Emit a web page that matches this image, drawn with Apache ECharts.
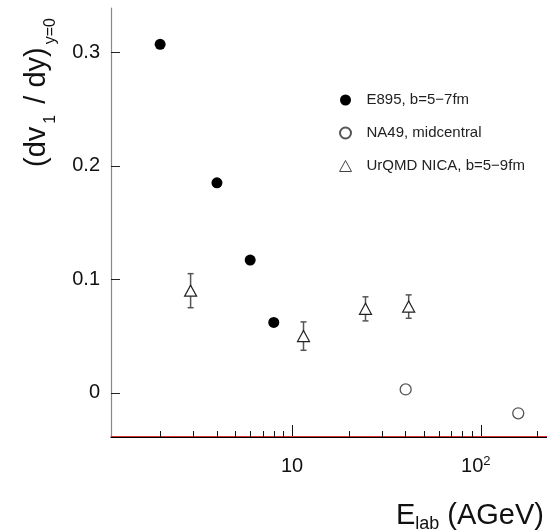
<!DOCTYPE html>
<html>
<head>
<meta charset="utf-8">
<script src="https://cdn.jsdelivr.net/npm/echarts@6/dist/echarts.min.js"></script>
<style>
html,body{margin:0;padding:0;background:#fff;}
#chart{width:547px;height:531px;}
</style>
</head>
<body>
<div id="chart"></div>
<script>
// ---- data ----
const e895X = [2, 4, 6, 8];
const e895Y = [0.307, 0.185, 0.117, 0.062];
const na49X = [40, 158];
const na49Y = [0.003, -0.018];
const urqmdX = [2.9, 11.5, 24.5, 41.5];
const urqmdY = [0.090, 0.050, 0.074, 0.076];
const urqmdErr = [0.015, 0.0125, 0.0106, 0.0103];
const xMajorTicks = [10, 100];
const xMinorTicks = [2, 3, 4, 5, 6, 7, 8, 9, 20, 30, 40, 50, 60, 70, 80, 90, 200];
const yTicks = [0, 0.1, 0.2, 0.3];
const seriesNames = ['E895, b=5\u22127fm', 'NA49, midcentral', 'UrQMD NICA, b=5\u22129fm'];

const FONT = 'Liberation Sans, Arial, Helvetica, sans-serif';
const xMin = 1.098, xMax = 224.4;
const yMin = -0.038, yMax = 0.339;

const chart = echarts.init(document.getElementById('chart'), null, {renderer: 'canvas'});

const zip = (a, b) => a.map((v, i) => [v, b[i]]);
const errData = urqmdX.map((x, i) => [x, urqmdY[i] - urqmdErr[i], urqmdY[i] + urqmdErr[i]]);

const option = {
  animation: false,
  backgroundColor: '#fff',
  grid: {left: 111, right: 0, top: 8, bottom: 95, containLabel: false},
  legend: {
    orient: 'vertical',
    left: 334,
    top: 87,
    itemWidth: 12,
    itemHeight: 11,
    itemGap: 17,
    data: [
      seriesNames[0],
      seriesNames[1],
      {name: seriesNames[2], itemStyle: {color: '#fff', borderColor: '#444', borderWidth: 1}}
    ],
    textStyle: {fontFamily: FONT, fontSize: 15, color: '#222', lineHeight: 16, padding: [0, 0, 0, 10]}
  },
  xAxis: [
    {
      type: 'log', logBase: 10, min: xMin, max: xMax, position: 'bottom',
      axisLine: {show: true, onZero: false, lineStyle: {color: '#d83030', width: 1}},
      axisTick: {show: true, inside: true, length: 11, customValues: xMajorTicks, lineStyle: {color: '#111', width: 1}},
      axisLabel: {
        show: true, customValues: xMajorTicks, margin: 19,
        formatter: v => (Math.abs(v - 10) < 1e-6 ? '{n|10}' : '{n|10}{s|2}'),
        rich: {
          n: {fontFamily: FONT, fontSize: 20, color: '#111', lineHeight: 22},
          s: {fontFamily: FONT, fontSize: 13, color: '#111', lineHeight: 13, verticalAlign: 'top', padding: [0, 10, 0, 0]}
        }
      },
      splitLine: {show: false},
      minorTick: {show: false}
    },
    {
      type: 'log', logBase: 10, min: xMin, max: xMax, position: 'bottom', offset: 1,
      axisLine: {show: true, onZero: false, lineStyle: {color: '#000', width: 1}},
      axisTick: {show: true, inside: true, length: 6, customValues: xMinorTicks, lineStyle: {color: '#111', width: 1}},
      axisLabel: {show: false},
      splitLine: {show: false}
    }
  ],
  yAxis: {
    type: 'value', min: yMin, max: yMax,
    axisLine: {show: true, onZero: false, lineStyle: {color: '#888', width: 1.2}},
    axisTick: {show: true, inside: true, length: 9, customValues: yTicks, lineStyle: {color: '#222', width: 1}},
    axisLabel: {
      show: true, customValues: yTicks, margin: 11,
      fontFamily: FONT, fontSize: 20, color: '#111',
      formatter: v => (Math.abs(v) < 1e-9 ? '0' : v.toFixed(1))
    },
    splitLine: {show: false}
  },
  graphic: [
    {
      type: 'text', x: 37, y: 91, rotation: Math.PI / 2, silent: true,
      style: {
        text: '{m|(dv}{s|1}{m| / dy)}{s|y=0}',
        align: 'center', verticalAlign: 'middle',
        rich: {
          m: {fontFamily: FONT, fontSize: 29, fill: '#111', lineHeight: 44, verticalAlign: 'middle'},
          s: {fontFamily: FONT, fontSize: 16, fill: '#111', lineHeight: 16, verticalAlign: 'bottom', padding: [0, 3, 0, 3]}
        }
      }
    },
    {
      type: 'text', x: 544, y: 516, silent: true,
      style: {
        text: '{m|E}{s|lab}{m| (AGeV)}',
        align: 'right', verticalAlign: 'middle',
        rich: {
          m: {fontFamily: FONT, fontSize: 29, fill: '#111', lineHeight: 34, verticalAlign: 'middle'},
          s: {fontFamily: FONT, fontSize: 18, fill: '#111', lineHeight: 18, verticalAlign: 'bottom'}
        }
      }
    }
  ],
  series: [
    {
      name: 'errors', type: 'custom', xAxisIndex: 0, z: 1, silent: true,
      data: errData,
      renderItem: function (params, api) {
        const x = api.value(0);
        const lo = api.coord([x, api.value(1)]);
        const hi = api.coord([x, api.value(2)]);
        const w = 3;
        const st = {stroke: '#555', lineWidth: 1.5};
        return {
          type: 'group',
          children: [
            {type: 'line', shape: {x1: hi[0], y1: hi[1], x2: lo[0], y2: lo[1]}, style: st},
            {type: 'line', shape: {x1: hi[0] - w, y1: hi[1], x2: hi[0] + w, y2: hi[1]}, style: st},
            {type: 'line', shape: {x1: lo[0] - w, y1: lo[1], x2: lo[0] + w, y2: lo[1]}, style: st}
          ]
        };
      }
    },
    {
      name: seriesNames[0], type: 'scatter', xAxisIndex: 0, z: 3,
      symbol: 'circle', symbolSize: 11,
      itemStyle: {color: '#000', opacity: 1},
      data: zip(e895X, e895Y)
    },
    {
      name: seriesNames[1], type: 'scatter', xAxisIndex: 0, z: 3,
      symbol: 'circle', symbolSize: 11,
      itemStyle: {color: '#fff', borderColor: '#555', borderWidth: 1.3, opacity: 1},
      data: zip(na49X, na49Y)
    },
    {
      name: seriesNames[2], type: 'scatter', xAxisIndex: 0, z: 3,
      symbol: 'triangle', symbolSize: [12, 11],
      itemStyle: {color: '#fff', borderColor: '#222', borderWidth: 1.2, opacity: 1},
      data: zip(urqmdX, urqmdY)
    }
  ]
};
chart.setOption(option);
</script>
</body>
</html>
